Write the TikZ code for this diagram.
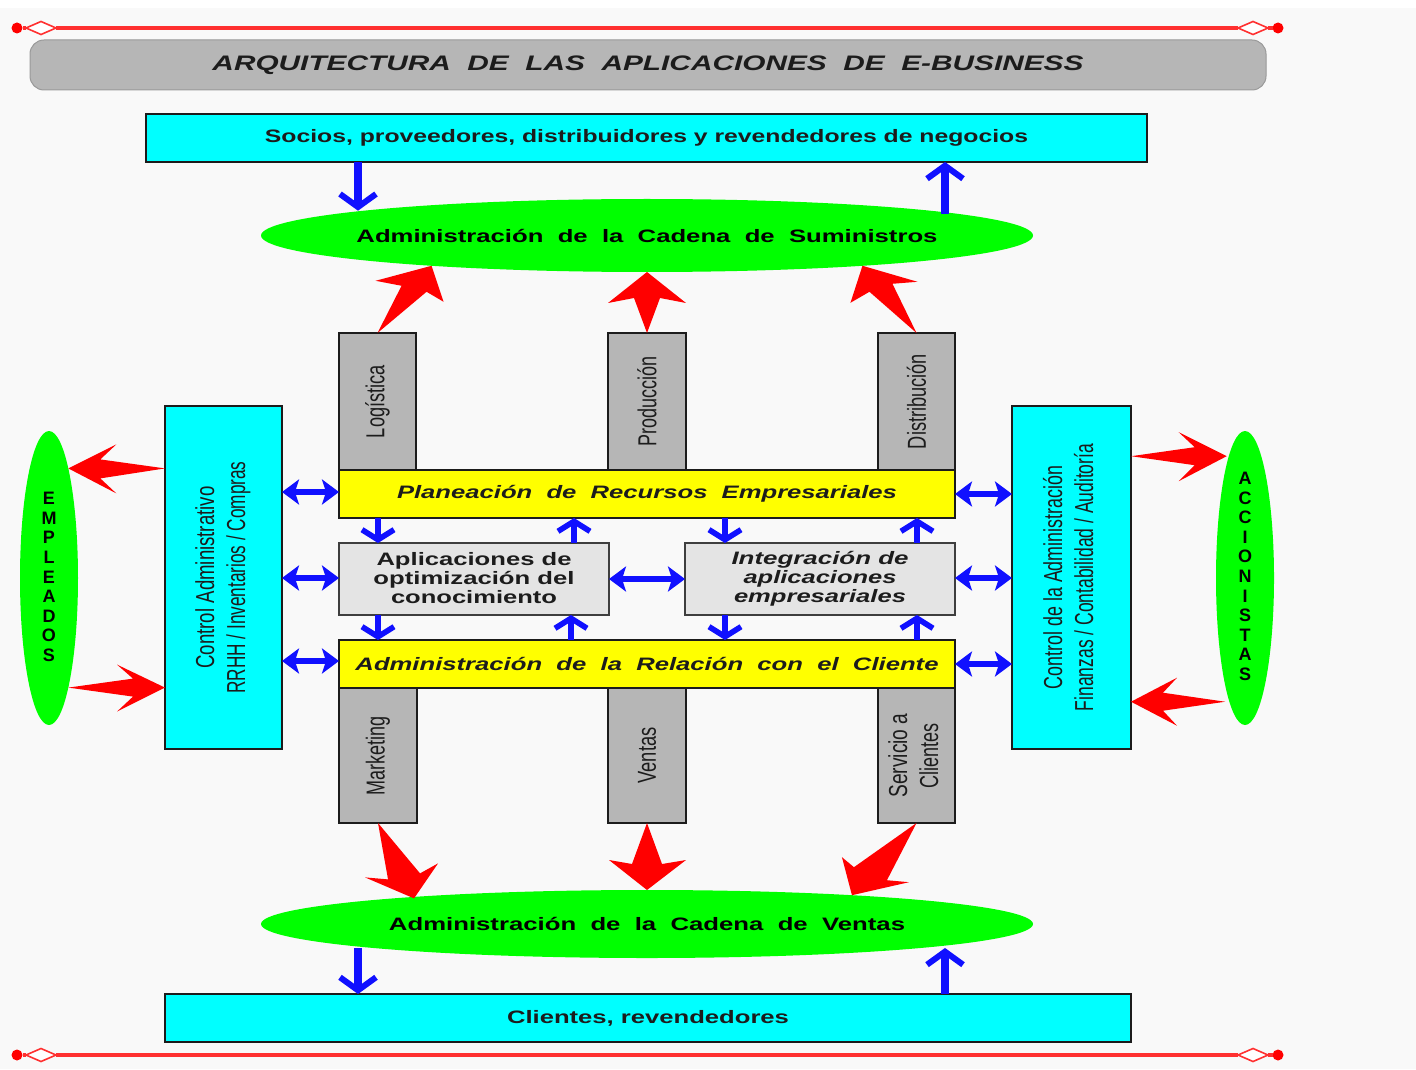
\documentclass[tikz,border=0pt]{standalone}
\usepackage{fontspec}
\usepackage{graphicx}
\setmainfont{Liberation Sans}
\usetikzlibrary{shapes.geometric,arrows.meta,calc}
\definecolor{bg}{HTML}{F9F9F9}
\definecolor{cya}{HTML}{00FFFF}
\definecolor{gre}{HTML}{00FF00}
\definecolor{yel}{HTML}{FFFF00}
\definecolor{gra}{HTML}{B6B6B6}
\definecolor{lgr}{HTML}{E4E4E4}
\definecolor{blu}{HTML}{1010FF}
\definecolor{rul}{HTML}{FF3030}
\definecolor{ink}{HTML}{1C1C1C}
% text stretched to a given width (in picture pixels), without taking room
\newcommand\tw[2]{\makebox[0pt]{\resizebox{\dimexpr#1pt/2\relax}{\height}{#2}}}
\newcommand\tws[2]{\resizebox{\dimexpr#1pt/2\relax}{\height}{#2}}
\newcommand\hs{\fontsize{9}{10}\selectfont\bfseries}
\newcommand\vs{\fontsize{13}{15.5}\selectfont}
\newcommand\dsp{\ \ }
% red block arrow: tail, tip, then notch, barb, barb, notch relative to the tip
\newcommand\redarr[6]{\fill[redblock] (#1) -- ($(#2)+(#3)$) -- ($(#2)+(#4)$) -- (#2) -- ($(#2)+(#5)$) -- ($(#2)+(#6)$) -- cycle;}
\tikzset{
  box/.style={draw=ink,line width=1.4pt,inner sep=0pt,outer sep=0pt,text=ink,align=center},
  cyanbox/.style={box,fill=cya},
  greybox/.style={box,fill=gra},
  lightbox/.style={box,fill=lgr,draw=ink!85},
  yellowbox/.style={box,fill=yel},
  oval/.style={ellipse,fill=gre,inner sep=0pt,outer sep=0pt,text=black,align=center},
  stack/.style={oval,font=\fontsize{9}{9.8}\selectfont\bfseries},
  redblock/.style={fill=red},
  bluearrow/.style={draw=blu,line width=4pt,-{Straight Barb[length=6.5pt,width=18pt,line width=3pt]}},
  bluesmall/.style={draw=blu,line width=3.4pt,-{Straight Barb[length=5pt,width=16pt,line width=2.8pt]}},
  bluedouble/.style={draw=blu,line width=3.4pt,{Stealth[length=8.5pt,width=12.5pt,inset=2pt]}-{Stealth[length=8.5pt,width=12.5pt,inset=2pt]}},
  rule/.style={draw=rul,line width=1.6pt},
  ruledot/.style={circle,fill=red,inner sep=0pt,minimum size=5.5pt,outer sep=0pt},
  ruleend/.style={diamond,draw=rul,line width=.8pt,fill=white,inner sep=0pt,outer sep=0pt,minimum width=15pt,minimum height=6.5pt,aspect=2.3},
}
\begin{document}
\begin{tikzpicture}[x=0.5pt,y=-0.5pt]
\useasboundingbox (0,0) rectangle (1416,1069);
\fill[bg] (0,8) rectangle (1416,1069);
% rules
\node[ruledot] (dtl) at (17,28) {};
\node[ruleend] (mtl) at (41,28) {};
\node[ruleend] (mtr) at (1253,28) {};
\node[ruledot] (dtr) at (1278,28) {};
\draw[rule] (dtl) -- (mtl) -- (mtr) -- (dtr);
\node[ruledot] (dbl) at (17,1055) {};
\node[ruleend] (mbl) at (41,1055) {};
\node[ruleend] (mbr) at (1253,1055) {};
\node[ruledot] (dbr) at (1278,1055) {};
\draw[rule] (dbl) -- (mbl) -- (mbr) -- (dbr);
% title
\node[draw=gray!80,line width=.5pt,fill=gra,rounded corners=7pt,inner sep=0pt,minimum width=618pt,minimum height=25pt,text=ink] (title) at (648,65)
  {\tw{871}{\fontsize{10.5}{12}\selectfont\bfseries\itshape ARQUITECTURA\dsp DE\dsp LAS\dsp APLICACIONES\dsp DE\dsp E-BUSINESS}};
% top and bottom
\node[cyanbox,minimum width=500.5pt,minimum height=24pt] (soc) at (646.5,138) {\tw{763}{\raisebox{-.5pt}{\hs Socios, proveedores, distribuidores y revendedores de negocios}}};
\node[oval,minimum width=386pt,minimum height=36.5pt] (sc) at (647,235.5) {\tw{581}{\hs Administración\dsp de\dsp la\dsp Cadena\dsp de\dsp Suministros}};
\node[oval,minimum width=386pt,minimum height=34pt] (sv) at (647,924) {\tw{516}{\hs Administración\dsp de\dsp la\dsp Cadena\dsp de\dsp Ventas}};
\node[cyanbox,minimum width=483pt,minimum height=24pt] (cli) at (648,1018) {\tw{282}{\hs Clientes, revendedores}};
% columns
\node[greybox,minimum width=38.5pt,minimum height=68.5pt] (log) at (377.5,401.5) {\rotatebox{90}{\vs\tws{73}{Logística}}};
\node[greybox,minimum width=39pt,minimum height=68.5pt] (pro) at (647,401.5) {\rotatebox{90}{\vs\tws{90}{Producción}}};
\node[greybox,minimum width=38.5pt,minimum height=68.5pt] (dis) at (916.5,401.5) {\rotatebox{90}{\vs\tws{95}{Distribución}}};
\node[greybox,minimum width=39pt,minimum height=67.5pt] (mar) at (378,755.5) {\rotatebox{90}{\vs\tws{79}{Marketing}}};
\node[greybox,minimum width=39pt,minimum height=67.5pt] (ven) at (647,755.5) {\rotatebox{90}{\vs\tws{56}{Ventas}}};
\node[greybox,minimum width=38.5pt,minimum height=67.5pt] (ser) at (916.5,755.5) {\rotatebox{90}{\vs\begin{tabular}{@{}c@{}}\tws{84}{Servicio a}\\\tws{65}{Clientes}\end{tabular}}};
% bands
\node[yellowbox,minimum width=308pt,minimum height=24pt] (pla) at (647,494) {\tw{500}{\hs\itshape Planeación\dsp de\dsp Recursos\dsp Empresariales}};
\node[lightbox,minimum width=135pt,minimum height=36pt,font=\fontsize{9}{9.4}\selectfont\bfseries] (apl) at (474,579) {\raisebox{.8pt}{\tws{195}{Aplicaciones de}}\\\raisebox{.8pt}{\tws{201}{optimización del}}\\\raisebox{.8pt}{\tws{166}{conocimiento}}};
\node[lightbox,minimum width=135pt,minimum height=36pt,font=\fontsize{9}{9.4}\selectfont\bfseries\itshape] (int) at (820,579) {\tws{177}{Integración de}\\\tws{153}{aplicaciones}\\\tws{172}{empresariales}};
\node[yellowbox,minimum width=308pt,minimum height=24pt] (rel) at (647,664) {\tw{583}{\hs\itshape Administración\dsp de\dsp la\dsp Relación\dsp con\dsp el\dsp Cliente}};
% side boxes
\node[cyanbox,minimum width=58.5pt,minimum height=171.5pt] (cl) at (223.5,577.5) {\rotatebox{90}{\vs\begin{tabular}{@{}c@{}}\tws{182}{Control Administrativo}\\\tws{232}{RRHH / Inventarios / Compras}\end{tabular}}};
\node[cyanbox,minimum width=59.5pt,minimum height=171.5pt] (cr) at (1071.5,577.5) {\rotatebox{90}{\vs\begin{tabular}{@{}c@{}}\tws{223}{Control de la Administración}\\\tws{267}{Finanzas / Contabilidad / Auditoría}\end{tabular}}};
\node[stack,minimum width=29pt,minimum height=147pt] (em) at (49,578) {\smash{\raisebox{-2.8pt}{\begin{tabular}{@{}c@{}}E\\M\\P\\L\\E\\A\\D\\O\\S\end{tabular}}}};
\node[stack,minimum width=29pt,minimum height=147pt] (ac) at (1245,578) {\smash{\raisebox{-2.5pt}{\begin{tabular}{@{}c@{}}A\\C\\C\\I\\O\\N\\I\\S\\T\\A\\S\end{tabular}}}};
% column guides on the boxes
\coordinate (c1) at (358,0);
\coordinate (c2) at (945,0);
\coordinate (d1) at (378,0);
\coordinate (d2) at (574,0);
\coordinate (d3) at (725,0);
\coordinate (d4) at (917,0);
\coordinate (d5) at (571,0);
\coordinate (r1) at (0,492);
\coordinate (r2) at (0,578);
\coordinate (r3) at (0,661);
\coordinate (r4) at (0,494);
\coordinate (r5) at (0,664);
% arrow ends just off the ovals
\coordinate (martip) at ($(sv.173.75)+(-8,2)$);
\coordinate (acup) at ($(ac.97)+(-3,3)$);
\coordinate (aclo) at ($(ac.262)+(-3,4)$);
% blue arrows
\draw[bluearrow] (soc.south -| c1) -- (sc.175 -| c1);
\draw[bluearrow] (sc.4.5 -| c2) -- (soc.south -| c2);
\draw[bluearrow] (sv.185 -| c1) -- (cli.north -| c1);
\draw[bluearrow] (cli.north -| c2) -- (sv.355.85 -| c2);
\draw[bluesmall] (pla.south -| d1) -- (apl.north -| d1);
\draw[bluesmall] (apl.north -| d2) -- (pla.south -| d2);
\draw[bluesmall] (pla.south -| d3) -- (int.north -| d3);
\draw[bluesmall] (int.north -| d4) -- (pla.south -| d4);
\draw[bluesmall] (apl.south -| d1) -- (rel.north -| d1);
\draw[bluesmall] (rel.north -| d5) -- (apl.south -| d5);
\draw[bluesmall] (int.south -| d3) -- (rel.north -| d3);
\draw[bluesmall] (rel.north -| d4) -- (int.south -| d4);
\draw[bluedouble] (r1 -| cl.east) -- (r1 -| pla.west);
\draw[bluedouble] (r2 -| cl.east) -- (r2 -| apl.west);
\draw[bluedouble] (r3 -| cl.east) -- (r3 -| rel.west);
\draw[bluedouble] (r4 -| pla.east) -- (r4 -| cr.west);
\draw[bluedouble] (r2 -| int.east) -- (r2 -| cr.west);
\draw[bluedouble] (r5 -| rel.east) -- (r5 -| cr.west);
\draw[bluedouble] (apl.east) -- (int.west);
% red arrows
\redarr{log.north}{sc.188.1}{-30,20}{-56,15}{12,36}{-5,26}
\redarr{pro.north}{sc.south}{-13,26}{-39,31}{39,31}{13,26}
\redarr{dis.north}{sc.352.6}{30,18}{55,16}{-12,37}{7,26}
\redarr{mar.south}{martip}{6,-25}{24,-35}{-49,-21}{-26,-19}
\redarr{ven.south}{sv.north}{-15,-26}{-38,-30}{39,-30}{15,-26}
\redarr{ser.south}{sv.8.1}{2,-28}{-10,-38}{57,-13}{35,-15}
\redarr{cl.west |- em.80}{em.80}{32,-9}{48,-24}{48,25}{32,10}
\redarr{em.280}{em.280 -| cl.west}{-32,-9}{-48,-23}{-48,24}{-32,9}
\redarr{acup -| cr.east}{acup}{-32,-9}{-48,-24}{-48,25}{-32,9}
\redarr{aclo}{aclo -| cr.east}{32,-9}{46,-24}{46,24}{32,9}
\end{tikzpicture}
\end{document}
